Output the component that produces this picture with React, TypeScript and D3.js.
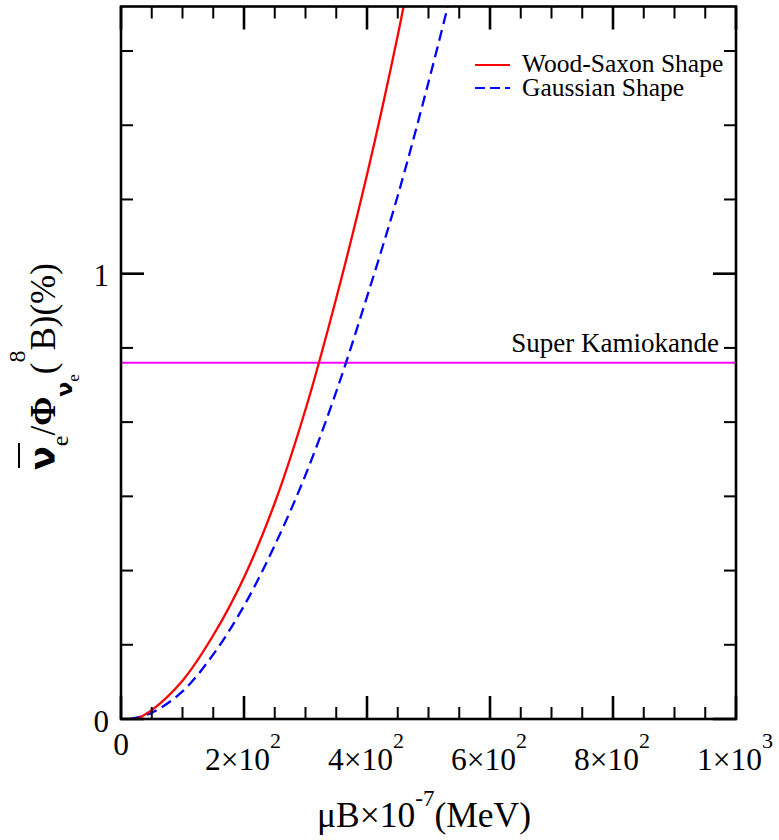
import React from "react";
import * as d3 from "d3";

// ---- data ----
const woodSaxonX = [25, 50, 100, 150, 200, 250, 300, 350, 400, 450, 465];
const woodSaxonY = [0, 0.02, 0.086, 0.188, 0.318, 0.485, 0.695, 0.945, 1.222, 1.535, 1.64];
const gaussianX = [15, 50, 100, 150, 200, 250, 300, 350, 400, 450, 500, 535];
const gaussianY = [0, 0.014, 0.062, 0.145, 0.254, 0.39, 0.548, 0.735, 0.948, 1.175, 1.43, 1.62];
const superKamiokandeLimit = 0.8;

const xMajorTicks = [0, 200, 400, 600, 800, 1000];
const xTickMantissa = ["0", "2×10", "4×10", "6×10", "8×10", "1×10"];
const xTickExponent = ["", "2", "2", "2", "2", "3"];
const yMajorTicks = [0, 1];
const yTickLabels = ["0", "1"];
const seriesNames = ["Wood-Saxon Shape", "Gaussian Shape"];

const W = 779;
const H = 840;
const M = { left: 121, right: 736, top: 6.5, bottom: 719 };
const FONT = "Liberation Serif, Times New Roman, serif";

export default function App() {
  const x = d3.scaleLinear().domain([0, 1000]).range([M.left, M.right]);
  const y = d3.scaleLinear().domain([0, 1.6]).range([M.bottom, M.top]);

  const line = d3
    .line<[number, number]>()
    .x((d) => x(d[0]))
    .y((d) => y(d[1]))
    .curve(d3.curveCatmullRom.alpha(0.5));

  const red = line(woodSaxonX.map((v, i) => [v, woodSaxonY[i]] as [number, number])) || "";
  const blue = line(gaussianX.map((v, i) => [v, gaussianY[i]] as [number, number])) || "";

  const xMinor = d3.range(0, 1001, 50).filter((v) => v % 200 !== 0);
  const yMinor = d3.range(1, 10).map((k) => k / 6).filter((v) => Math.abs(v - 1) > 1e-6 && v <= 1.6);

  const majLen = 23;
  const minLen = 12;
  const sw = 2.6;

  return (
    <svg width={W} height={H} style={{ display: "block", position: "absolute", left: 0, top: 0 }} fontFamily={FONT}>
      <rect x={0} y={0} width={W} height={H} fill="white" />
      <defs>
        <clipPath id="plot">
          <rect x={M.left} y={M.top} width={M.right - M.left} height={M.bottom - M.top} />
        </clipPath>
      </defs>

      {/* data */}
      <g clipPath="url(#plot)">
        <line x1={x(0)} x2={x(1000)} y1={y(superKamiokandeLimit)} y2={y(superKamiokandeLimit)} stroke="#ff00ff" strokeWidth={2} />
        <path d={blue} fill="none" stroke="#0000ff" strokeWidth={2.3} strokeDasharray="11,6" />
        <path d={red} fill="none" stroke="#ff0000" strokeWidth={2.3} />
      </g>

      {/* frame */}
      <rect x={M.left} y={M.top} width={M.right - M.left} height={M.bottom - M.top} fill="none" stroke="black" strokeWidth={sw} />

      {/* x ticks */}
      {xMajorTicks.map((v) => (
        <g key={"xm" + v}>
          <line x1={x(v)} x2={x(v)} y1={M.bottom} y2={M.bottom - majLen} stroke="black" strokeWidth={sw} />
          <line x1={x(v)} x2={x(v)} y1={M.top} y2={M.top + majLen} stroke="black" strokeWidth={sw} />
        </g>
      ))}
      {xMinor.map((v) => (
        <g key={"xn" + v}>
          <line x1={x(v)} x2={x(v)} y1={M.bottom} y2={M.bottom - minLen} stroke="black" strokeWidth={2} />
          <line x1={x(v)} x2={x(v)} y1={M.top} y2={M.top + minLen} stroke="black" strokeWidth={2} />
        </g>
      ))}
      {/* y ticks */}
      {yMajorTicks.map((v) => (
        <g key={"ym" + v}>
          <line x1={M.left} x2={M.left + majLen} y1={y(v)} y2={y(v)} stroke="black" strokeWidth={sw} />
          <line x1={M.right} x2={M.right - majLen} y1={y(v)} y2={y(v)} stroke="black" strokeWidth={sw} />
        </g>
      ))}
      {yMinor.map((v) => (
        <g key={"yn" + v}>
          <line x1={M.left} x2={M.left + minLen} y1={y(v)} y2={y(v)} stroke="black" strokeWidth={2} />
          <line x1={M.right} x2={M.right - minLen} y1={y(v)} y2={y(v)} stroke="black" strokeWidth={2} />
        </g>
      ))}

      {/* x tick labels */}
      {xMajorTicks.map((v, i) => (
        <text key={"xl" + v} x={x(v) - (xTickExponent[i] ? 1 : 0)} y={xTickExponent[i] ? 770 : 755} textAnchor="middle" fontSize={31.5}>
          {xTickMantissa[i]}
          {xTickExponent[i] ? (
            <tspan fontSize={22} dy={-22}>{xTickExponent[i]}</tspan>
          ) : null}
        </text>
      ))}
      {/* y tick labels */}
      {yMajorTicks.map((v, i) => (
        <text key={"yl" + v} x={109} y={y(v) + 12.5} textAnchor="end" fontSize={31}>
          {yTickLabels[i]}
        </text>
      ))}

      {/* x axis title */}
      <text x={424} y={827} textAnchor="middle" fontSize={35.5}>
        μB×10<tspan fontSize={23} dy={-21}>-7</tspan>
        <tspan dy={21}>(MeV)</tspan>
      </text>

      {/* y axis title */}
      <g transform="translate(55,470) rotate(-90)">
        <line x1={2} x2={27} y1={-36} y2={-36} stroke="black" strokeWidth={2} />
        <text x={0} y={0} fontSize={35}>
          <tspan fontWeight="bold" fontFamily="DejaVu Sans, sans-serif">ν</tspan>
          <tspan fontSize={24} dy={13}>e</tspan>
          <tspan dy={-13}>/</tspan>
          <tspan fontWeight="bold">Φ</tspan>
          <tspan fontSize={22} dy={17} fontWeight="bold" fontFamily="DejaVu Sans, sans-serif">ν</tspan>
          <tspan fontSize={17} dy={7}>e</tspan>
          <tspan dy={-24}>(</tspan>
          <tspan fontSize={24} dy={-30}>8</tspan>
          <tspan dy={30}>B)(%)</tspan>
        </text>
      </g>

      {/* Super Kamiokande label */}
      <text x={719} y={352} textAnchor="end" fontSize={27}>Super Kamiokande</text>

      {/* legend */}
      <line x1={475} x2={510} y1={65} y2={65} stroke="#ff0000" strokeWidth={2} />
      <text x={522} y={72} fontSize={25.5}>{seriesNames[0]}</text>
      <line x1={475} x2={510} y1={88} y2={88} stroke="#0000ff" strokeWidth={2} strokeDasharray="10,5" />
      <text x={522} y={96} fontSize={25.5}>{seriesNames[1]}</text>
    </svg>
  );
}
